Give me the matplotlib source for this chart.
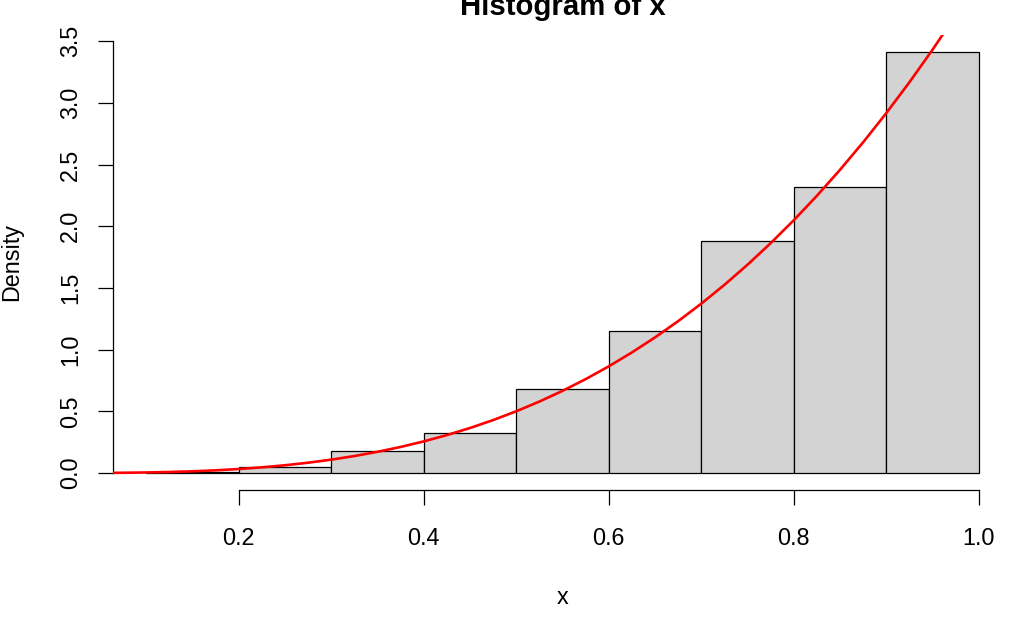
import matplotlib
matplotlib.use("Agg")
import matplotlib.pyplot as plt

plt.rcParams['font.family'] = ['Liberation Sans', 'DejaVu Sans']

# Histogram data
bin_edges = [0.1, 0.2, 0.3, 0.4, 0.5, 0.6, 0.7, 0.8, 0.9, 1.0]
densities = [0.01, 0.05, 0.18, 0.32, 0.68, 1.15, 1.88, 2.32, 3.41]

# Red density curve
curve_x = [0.064, 0.075, 0.100, 0.125, 0.150, 0.175, 0.200, 0.225, 0.250, 0.275,
           0.300, 0.325, 0.350, 0.375, 0.400, 0.425, 0.450, 0.475, 0.500, 0.525,
           0.550, 0.575, 0.600, 0.625, 0.650, 0.675, 0.700, 0.725, 0.750, 0.775,
           0.800, 0.825, 0.850, 0.875, 0.900, 0.925, 0.950, 0.975, 1.000]
curve_y = [0.0010, 0.0017, 0.0040, 0.0078, 0.0135, 0.0214, 0.0320, 0.0456, 0.0625, 0.0832,
           0.1080, 0.1373, 0.1715, 0.2109, 0.2560, 0.3071, 0.3645, 0.4287, 0.5000, 0.5788,
           0.6655, 0.7604, 0.8640, 0.9766, 1.0985, 1.2302, 1.3720, 1.5243, 1.6875, 1.8619,
           2.0480, 2.2461, 2.4565, 2.6797, 2.9160, 3.1658, 3.4295, 3.7074, 4.0000]

x_ticks = [0.2, 0.4, 0.6, 0.8, 1.0]
x_ticklabels = ["0.2", "0.4", "0.6", "0.8", "1.0"]
y_ticks = [0.0, 0.5, 1.0, 1.5, 2.0, 2.5, 3.0, 3.5]
y_ticklabels = ["0.0", "0.5", "1.0", "1.5", "2.0", "2.5", "3.0", "3.5"]

W, H = 1024, 618
fig = plt.figure(figsize=(W / 100, H / 100), dpi=100)
ax = fig.add_axes([113 / W, 1 - 489.8 / H, (1012 - 113) / W, (489.8 - 35.4) / H])

lefts = bin_edges[:-1]
widths = [bin_edges[i + 1] - bin_edges[i] for i in range(len(lefts))]
ax.bar(lefts, densities, width=widths, align='edge', color='#D3D3D3',
       edgecolor='black', linewidth=0.9, zorder=2)
ax.plot(curve_x, curve_y, color='red', linewidth=1.9, zorder=3)

x0, x1 = bin_edges[0], bin_edges[-1]
dx = (x1 - x0) * 0.04
ax.set_xlim(x0 - dx, x1 + dx)
ymax = max(densities)
ax.set_ylim(-ymax * 0.04, ymax * 1.04)

for s in ['top', 'right']:
    ax.spines[s].set_visible(False)
ax.spines['left'].set_bounds(y_ticks[0], y_ticks[-1])
ax.spines['bottom'].set_bounds(x_ticks[0], x_ticks[-1])
for s in ['left', 'bottom']:
    ax.spines[s].set_linewidth(0.9)

ax.set_xticks(x_ticks)
ax.set_xticklabels(x_ticklabels)
ax.set_yticks(y_ticks)
ax.set_yticklabels(y_ticklabels, rotation=90, va='center')
ax.tick_params(axis='both', length=10.8, width=0.9, labelsize=16.8, color='black')
ax.tick_params(axis='x', pad=16)
ax.tick_params(axis='y', pad=11.5)

fig.text(563 / W, 1 - 15 / H, "Histogram of x", ha='center', va='baseline',
         fontsize=21.2, fontweight='bold')
fig.text(563 / W, 1 - 604 / H, "x", ha='center', va='baseline', fontsize=16.8)
fig.text(18 / W, 1 - 262 / H, "Density", ha='center', va='baseline', rotation=90,
         fontsize=16.8, rotation_mode='anchor')

fig.savefig("out.png", dpi=100)
